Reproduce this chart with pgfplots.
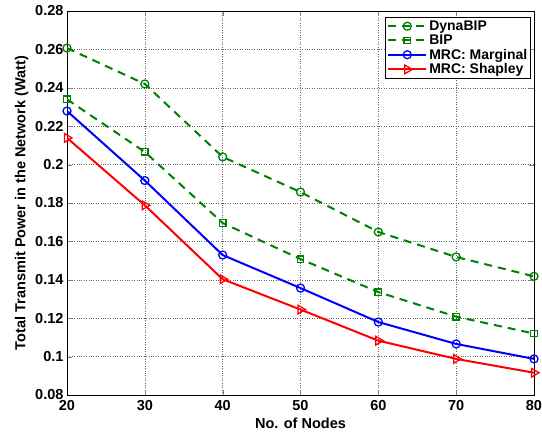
\documentclass[border=0pt]{standalone}
\usepackage{fontspec}
\setmainfont{Liberation Sans}
\usepackage{pgfplots}
\pgfplotsset{compat=1.18}
\definecolor{mgreen}{rgb}{0,0.5,0}
\begin{document}
\begin{tikzpicture}
\begin{axis}[
    scale only axis,
    width=467pt, height=384pt,
    xmin=20, xmax=80,
    ymin=0.08, ymax=0.28,
    xtick={20,30,40,50,60,70,80},
    ytick={0.08,0.1,0.12,0.14,0.16,0.18,0.2,0.22,0.24,0.26,0.28},
    yticklabels={0.08,0.1,0.12,0.14,0.16,0.18,0.2,0.22,0.24,0.26,0.28},
    /pgf/number format/assume math mode=true,
    xlabel={\bfseries No. of Nodes},
    ylabel={\bfseries Total Transmit Power in the Network (Watt)},
    ticklabel style={font=\fontsize{14.5}{16}\selectfont\bfseries},
    xticklabel style={yshift=-2pt},
    label style={font=\fontsize{14.5}{16}\selectfont},
    xlabel style={at={(axis description cs:0.5,-0.074)}, anchor=center},
    ylabel style={at={(axis description cs:-0.097,0.5)}, anchor=center},
    tick align=inside,
    major tick length=5pt,
    grid=major,
    grid style={black!60, dotted, line width=0.6pt},
    axis line style={line width=0.8pt},
    legend style={at={(0.994,0.985)}, anchor=north east, draw=black,
        line width=0.8pt, font=\fontsize{14}{16}\selectfont\bfseries,
        inner sep=1.5pt, row sep=-1pt, cells={anchor=west}},
    legend cell align=left,
    legend image code/.code={
        \draw[mark repeat=2, mark phase=2] plot coordinates {(0pt,0pt) (19pt,0pt) (38pt,0pt)};
    },
]
\addplot[color=mgreen, line width=2pt, dash pattern=on 8pt off 6pt, mark=o, mark size=4pt, mark options={solid, line width=1.3pt}]
    coordinates {
        (20,0.2607) (30,0.2420) (40,0.2040) (50,0.1857)
        (60,0.1649) (70,0.1519) (80,0.1418)
    };
\addplot[color=mgreen, line width=2pt, dash pattern=on 8pt off 6pt, mark=square, mark size=3.2pt, mark options={solid, line width=1.3pt}]
    coordinates {
        (20,0.2340) (30,0.2066) (40,0.1696) (50,0.1508)
        (60,0.1336) (70,0.1208) (80,0.1120)
    };
\addplot[color=blue, line width=2pt, mark=o, mark size=4pt, mark options={solid, line width=1.3pt}]
    coordinates {
        (20,0.2279) (30,0.1917) (40,0.1529) (50,0.1357)
        (60,0.1180) (70,0.1066) (80,0.0988)
    };
\addplot[color=red, line width=2pt, mark=triangle, mark size=5pt, mark options={solid, rotate=-90, line width=1.3pt}]
    coordinates {
        (20,0.2139) (30,0.1788) (40,0.1403) (50,0.1245)
        (60,0.1083) (70,0.0988) (80,0.0916)
    };
\legend{DynaBIP, BIP, MRC: Marginal, MRC: Shapley}
\end{axis}
\pgfresetboundingbox
\path ([shift={(-67pt,-37pt)}]current axis.south west) rectangle ([shift={(8pt,11pt)}]current axis.north east);
\end{tikzpicture}
\end{document}
